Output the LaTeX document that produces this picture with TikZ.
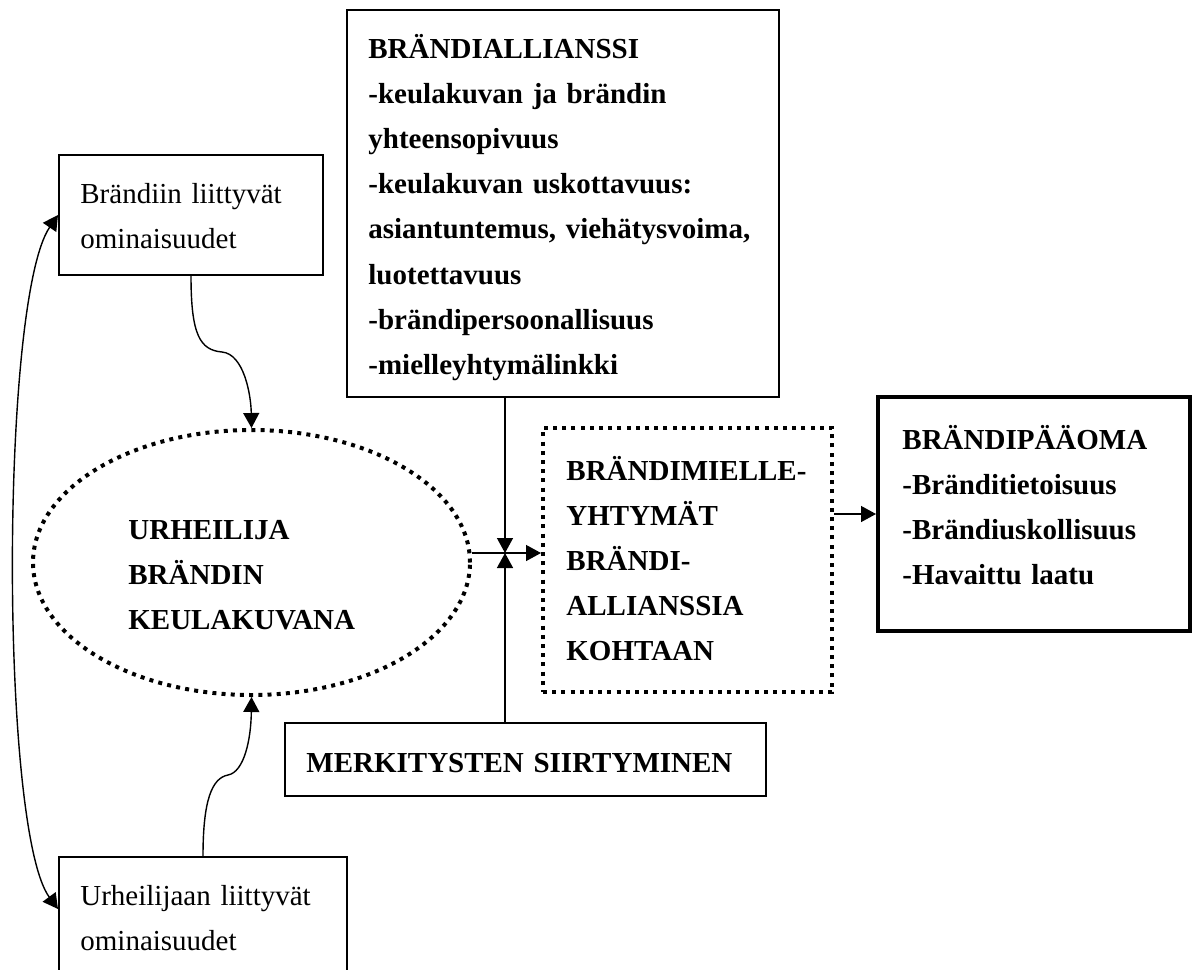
\documentclass[tikz,border=0pt]{standalone}
\usepackage{fontspec}
\setmainfont{Liberation Serif}
\usetikzlibrary{shapes.geometric,fit,arrows.meta}
\begin{document}
\begin{tikzpicture}[x=0.5pt,y=-0.5pt,
  box/.style={draw, line width=1pt, inner sep=0pt},
  dotbox/.style={draw, line width=2pt, dash pattern=on 2pt off 2.6pt, inner sep=0pt},
  thickbox/.style={draw, line width=2pt, inner sep=0pt},
  txt/.style={anchor=base west, inner sep=0pt, align=left, text width=220pt,
    font=\fontsize{14.5pt}{22.6pt}\selectfont},
  btxt/.style={txt, font=\fontsize{14.5pt}{22.6pt}\selectfont\bfseries},
  tip/.style={Triangle[length=7.5pt,width=8pt]},
  conn/.style={line width=0.7pt, -{Triangle[length=7.5pt,width=8pt]}},
  dconn/.style={line width=0.7pt, {Triangle[length=7.5pt,width=8pt]}-{Triangle[length=7.5pt,width=8pt]}},
]
\useasboundingbox (0,0) rectangle (1197,969);
\clip (0,0) rectangle (1197,969);

% boxes
\node[box, fit={(59,155) (323,275)}] (b1) {};
\node[box, fit={(347,10) (779,397)}] (top) {};
\node[dotbox, fit={(543,428) (832,692)}] (dbox) {};
\node[thickbox, fit={(878,397) (1190,631)}] (fin) {};
\node[box, fit={(285,723) (766,796)}] (merk) {};
\node[box, fit={(59,857) (347,1000)}] (b2) {};
\node[dotbox, ellipse, minimum width=218.5pt, minimum height=132.5pt] (ell) at (251.5,562.5) {};

% texts
\node[txt] (t1) at (80,203) {Brändiin liittyvät\\ominaisuudet};
\node[txt] (t2) at (80,905) {Urheilijaan liittyvät\\ominaisuudet};
\node[btxt] (ttop) at (368,58) {BRÄNDIALLIANSSI\\-keulakuvan ja brändin\\yhteensopivuus\\-keulakuvan uskottavuus:\\asiantuntemus, viehätysvoima,\\luotettavuus\\-brändipersoonallisuus\\-mielleyhtymälinkki};
\node[btxt] (tell) at (128,539) {URHEILIJA\\BRÄNDIN\\KEULAKUVANA};
\node[btxt] (tdbox) at (566,480) {BRÄNDIMIELLE-\\YHTYMÄT\\BRÄNDI-\\ALLIANSSIA\\KOHTAAN};
\node[btxt] (tfin) at (902,449) {BRÄNDIPÄÄOMA\\-Bränditietoisuus\\-Brändiuskollisuus\\-Havaittu laatu};
\node[btxt] (tmerk) at (306,772) {MERKITYSTEN SIIRTYMINEN};

% junction
\coordinate (j) at (505,553);

% connectors
\draw[conn] (top.south -| j) -- (j);
\draw[conn] (merk.north -| j) -- (j);
\draw[conn] (ell.east |- j) -- (dbox.west |- j);
\draw[conn] (dbox.east |- fin.west) -- (fin.west);
\draw[conn] (b1.south) .. controls (191,335) and (200,350) .. (222,352)
  .. controls (244,354) and (251,395) .. (ell.north);
\draw[conn] (b2.north) .. controls (203,800) and (212,778) .. (228,775)
  .. controls (244,772) and (251,740) .. (ell.south);
\draw[dconn] (b1.west) .. controls (0,300) and (0,830) .. ([yshift=-26.5pt]b2.north west);
\end{tikzpicture}
\end{document}
